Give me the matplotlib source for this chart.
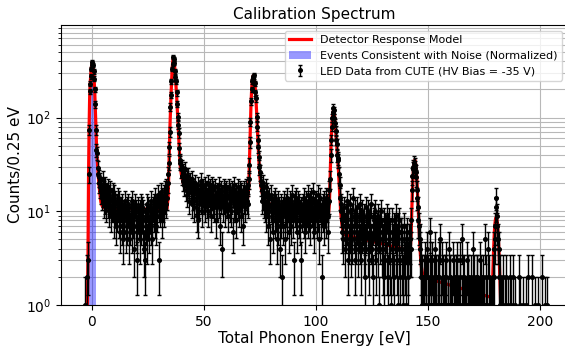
import numpy as np
import matplotlib
matplotlib.use("Agg")
import matplotlib.pyplot as plt

BIN = 0.25  # eV per bin

# ---- LED data counts per 0.25 eV bin, by segment (start energy, counts) ----
start_peak0 = -3.5
counts_peak0 = [0, 1, 0, 0, 0, 0, 2, 3, 25, 74, 190, 230, 275, 330, 360, 390,
                365, 310, 260, 200, 138, 74, 45, 42, 29, 25, 23, 20]
start_cont1 = 3.5
counts_cont1 = [18, 21,
                16, 19, 14, 22, 15, 12, 17, 13, 19, 11, 14, 16, 12, 18, 10, 15,
                13, 17, 9, 14, 11, 16, 12, 8, 15, 10, 13, 7, 12, 9, 14, 11,
                8, 13, 6, 10, 11, 7, 12, 9, 5, 10, 8, 13, 9, 6, 11, 7,
                10, 12, 5, 8, 7, 11, 9, 6, 13, 8, 10, 4, 9, 12, 7, 10,
                6, 3, 9, 11, 8, 10, 5, 12, 7, 9, 11, 6, 10, 4, 8, 3,
                9, 7, 12, 5, 8, 11, 6, 9, 10, 7, 13, 8, 5, 11, 9, 12,
                8, 14, 10, 7, 12, 9, 15, 11, 3, 13, 10, 16, 12, 8, 14, 11,
                15, 10, 17, 13, 12, 18, 14, 20]
start_peak1 = 34.0
counts_peak1 = [25, 33, 48, 70, 130, 175, 245, 330, 370, 440, 425, 380,
                310, 270, 245, 185, 140, 102, 84, 69, 47, 33, 35, 28]
start_cont2 = 40.0
counts_cont2 = [30, 24, 27, 21, 25, 19, 23, 28, 17, 22, 15, 20, 24, 13, 18, 21,
                16, 19, 12, 22, 14, 18, 11, 17, 20, 13, 16, 9, 15, 8, 19, 14,
                12, 17, 21, 13, 16, 10, 18, 15, 13, 19, 11, 16, 17, 12, 14, 20,
                10, 15, 18, 13, 16, 9, 14, 19, 12, 17, 11, 15, 18, 13, 8, 16,
                11, 15, 19, 12, 14, 7, 17, 13, 4, 15, 11, 18, 13, 16, 10, 14,
                17, 12, 15, 9, 14, 18, 11, 16, 10, 13, 17, 6, 15, 12, 19, 14,
                11, 16, 8, 13, 18, 12, 15, 10, 14, 17, 9, 16, 12, 7, 15, 13,
                17, 11, 14, 18, 13, 16, 12, 19]
start_peak2 = 70.0
counts_peak2 = [22, 31, 55, 90, 149, 200, 245, 262, 270, 285, 240, 232,
                185, 160, 102, 80, 58, 49, 38, 30, 26, 21, 19, 13]
start_cont3 = 76.0
counts_cont3 = [17, 14, 20, 12, 15, 11, 18, 9, 13, 16, 7, 12, 10, 14, 5, 11,
                15, 9, 12, 6, 11, 13, 8, 14, 9, 12, 10, 5, 13, 7, 11, 9,
                4, 12, 8, 10, 2, 11, 7, 13, 9, 5, 12, 10, 14, 8, 11, 6,
                10, 13, 9, 12, 7, 11, 15, 8, 12, 3, 10, 13, 9, 14, 6, 11,
                13, 8, 12, 10, 7, 11, 3, 9, 12, 10, 14, 8, 6, 11, 9, 13,
                10, 15, 8, 12, 9, 13, 7, 11, 14, 10, 16, 8, 11, 6, 12, 9,
                13, 10, 8, 15, 9, 12, 5, 11, 14, 8, 2, 10, 12, 9, 13, 7,
                10, 14, 8, 12, 11, 6, 9, 13]
start_peak3 = 106.0
counts_peak3 = [17, 22, 40, 58, 80, 100, 115, 127, 120, 100, 88, 72,
                58, 52, 40, 37, 35, 25, 19, 14, 10, 12, 8, 6]
start_cont4 = 112.0
counts_cont4 = [8, 5, 11, 7, 4, 9, 6, 13, 7, 3, 10, 5, 12, 6, 8, 4,
                9, 5, 14, 7, 6, 10, 3, 8, 5, 11, 7, 4, 9, 6, 12, 5,
                3, 8, 6, 10, 7, 4, 9, 2, 5, 11, 6, 8, 10, 4, 7, 3,
                6, 9, 5, 12, 4, 7, 2, 8, 9, 5, 10, 6, 3, 7, 4, 9,
                6, 1, 8, 5, 10, 4, 6, 3, 5, 8, 2, 7, 4, 6, 9, 3,
                7, 2, 5, 8, 3, 6, 1, 4, 8, 5, 3, 7, 2, 6, 4, 9,
                5, 3, 7, 1, 4, 8, 2, 6, 6, 3, 5, 1, 2, 7, 4, 3,
                5, 1, 6, 4, 3, 2, 5, 4]
start_peak4 = 142.0
counts_peak4 = [5, 4, 8, 17, 24, 28, 30, 33, 29, 31, 23, 26,
                17, 14, 11, 8, 7, 5, 4, 2, 3, 1, 2, 1]
start_cont5 = 148.0
counts_cont5 = [2, 1, 3, 0, 1, 2, 0, 4, 2, 0, 1, 3, 6, 1, 2, 0,
                3, 1, 0, 2, 1, 4, 2, 1, 0, 2, 1, 3, 2, 0, 5, 1,
                1, 3, 0, 2, 0, 1, 2, 1, 3, 2, 0, 1, 1, 0, 4, 2,
                2, 1, 1, 0, 0, 3, 2, 1, 1, 0, 2, 3, 2, 1, 0, 1,
                1, 2, 3, 0, 5, 1, 0, 2, 0, 2, 1, 1, 1, 0, 3, 2,
                2, 1, 0, 1, 0, 2, 1, 0, 1, 4, 2, 1, 0, 1, 0, 2,
                2, 0, 1, 1, 1, 3, 0, 2, 0, 1, 2, 0, 1, 0, 5, 1,
                2, 1, 0, 4, 0, 2, 1, 1, 1, 0, 1, 0]
start_peak5 = 179.0
counts_peak5 = [2, 2, 4, 5, 7, 11, 14, 9, 7, 5, 4, 2, 2, 1, 0, 1]
start_tail = 183.0
counts_tail = [1, 0, 2, 0, 0, 0, 1, 0, 2, 0, 0, 1, 0, 0, 2, 0,
               0, 1, 0, 0, 2, 0, 0, 0, 1, 0, 0, 0, 0, 0, 0, 2,
               1, 0, 0, 0, 0, 1, 0, 0, 0, 0, 0, 1, 0, 0, 0, 2,
               0, 0, 0, 0, 0, 2, 0, 0, 0, 0, 0, 1, 0, 0, 0, 0,
               1, 0, 0, 0, 0, 0, 0, 2, 0, 0, 0, 0, 0, 1, 0, 0,
               1]

segments = [(start_peak0, counts_peak0), (start_cont1, counts_cont1),
            (start_peak1, counts_peak1), (start_cont2, counts_cont2),
            (start_peak2, counts_peak2), (start_cont3, counts_cont3),
            (start_peak3, counts_peak3), (start_cont4, counts_cont4),
            (start_peak4, counts_peak4), (start_cont5, counts_cont5),
            (start_peak5, counts_peak5), (start_tail, counts_tail)]

# ---- Detector response model (knots) ----
model_energy = [-2.5, -2.25, -2.0, -1.75, -1.5, -1.25, -1.0, -0.75, -0.5, -0.25, 0.0, 0.25,
                0.5, 0.75, 1.0, 1.25, 1.5, 1.75, 2.0, 2.25, 2.5, 2.75, 3.0, 3.25, 3.5, 3.75,
                4.0, 4.5, 5.0, 6.0, 10.0, 20.0, 30.0, 33.5,
                34.0, 34.25, 34.5, 34.75, 35.0, 35.25, 35.5, 35.75, 36.0, 36.25, 36.5, 36.75,
                37.0, 37.25, 37.5, 37.75, 38.0, 38.25, 38.5, 38.75, 39.0, 39.25, 39.5, 40.0,
                40.5, 41.0, 42.0, 43.0, 45.0, 69.5,
                70.0, 70.25, 70.5, 70.75, 71.0, 71.25, 71.5, 71.75, 72.0, 72.25, 72.5, 72.75,
                73.0, 73.25, 73.5, 73.75, 74.0, 74.25, 74.5, 74.75, 75.0, 75.5, 76.0, 77.0,
                78.0, 97.0, 105.5,
                106.0, 106.25, 106.5, 106.75, 107.0, 107.25, 107.5, 107.75, 108.0, 108.25,
                108.5, 108.75, 109.0, 109.25, 109.5, 109.75, 110.0, 110.25, 110.5, 110.75,
                111.0, 111.5, 112.0, 113.0, 142.0,
                142.25, 142.5, 142.75, 143.0, 143.25, 143.5, 143.75, 144.0, 144.25, 144.5,
                144.75, 145.0, 145.25, 145.5, 145.75, 146.0, 146.25, 146.5, 146.75, 147.0,
                147.5, 148.0, 149.0, 178.5,
                178.75, 179.0, 179.25, 179.5, 179.75, 180.0, 180.25, 180.5, 180.75, 181.0,
                181.25, 181.5, 181.75, 182.0, 182.25, 182.5, 182.75, 183.0]
model_counts = [0.3, 0.5, 1.0, 3.5, 25, 80, 170, 235, 290, 340, 380, 395,
                370, 310, 250, 190, 130, 85, 55, 40, 31, 25, 21, 18, 16, 14,
                12.5, 11.5, 11.0, 10.8, 10.7, 10.6, 10.5, 10.6,
                14, 22, 40, 70, 110, 160, 230, 310, 380, 430, 430, 390,
                330, 270, 225, 180, 140, 105, 80, 60, 45, 35, 29, 24,
                21, 19, 17, 16, 15.5, 13.8,
                18, 30, 55, 90, 140, 190, 240, 270, 280, 275, 255, 225,
                190, 150, 115, 85, 62, 46, 35, 28, 23, 18, 15.5, 13.5,
                12.2, 9.5, 9.0,
                12, 20, 35, 55, 75, 95, 110, 118, 115, 105,
                90, 75, 62, 50, 41, 34, 28, 22, 17, 13,
                10, 7.5, 6.2, 5.6, 3.8,
                4.5, 6, 10, 16, 22, 28, 33, 35, 35, 32,
                27, 22, 17, 12.5, 9, 6.5, 4.8, 3.7, 3.0, 2.6,
                2.2, 2.05, 1.95, 1.2,
                1.6, 2.5, 3.8, 5.3, 6.8, 7.9, 8.5, 8.6, 8.2, 7.3,
                6.0, 4.6, 3.3, 2.2, 1.4, 0.9, 0.5, 0.3]

# ---- Noise events histogram (normalized) ----
noise_edges = [-2.0, -1.75, -1.5, -1.25, -1.0, -0.75, -0.5, -0.25, 0.0, 0.25, 0.5,
               0.75, 1.0, 1.25, 1.5, 1.75, 2.0]
noise_counts = [2, 8, 30, 80, 160, 220, 280, 330, 410, 370, 320, 250, 180, 110, 60, 30]

# ---- assemble data ----
xs, ys = [], []
for start, vals in segments:
    for i, v in enumerate(vals):
        if v > 0:
            xs.append(start + BIN * i)
            ys.append(v)
xs = np.array(xs)
ys = np.array(ys, dtype=float)

fig = plt.figure(figsize=(5.65, 3.46), dpi=100)
ax = fig.add_axes([61 / 565, 41 / 346, (567.6 - 61) / 565, 280 / 346])

ax.set_yscale('log')
ax.grid(True, which='both', axis='y', color='#b8b8b8', lw=0.8)
ax.grid(True, which='major', axis='x', color='#b8b8b8', lw=0.8)
ax.set_axisbelow(True)

line_model, = ax.plot(model_energy, model_counts, color='red', lw=2.3,
                      label='Detector Response Model', zorder=2)
noise = ax.stairs(noise_counts, noise_edges, fill=True, color='blue', alpha=0.4,
                  label='Events Consistent with Noise (Normalized)', zorder=1.5)
eb = ax.errorbar(xs, ys, yerr=np.sqrt(ys), fmt='o', color='black', ms=2.6,
                 elinewidth=1.0, capsize=1.4, capthick=1.0,
                 label='LED Data from CUTE (HV Bias = -35 V)', zorder=2.5)

ax.set_xlim(-13.8, 212.3)
ax.set_ylim(1, 970)
ax.set_xticks([0, 50, 100, 150, 200])
ax.tick_params(labelsize=10)
ax.set_xlabel('Total Phonon Energy [eV]', fontsize=11, labelpad=2)
ax.set_ylabel('Counts/0.25 eV', fontsize=11, labelpad=2)
ax.set_title('Calibration Spectrum', fontsize=11, pad=4)
ax.legend(handles=[line_model, noise, eb], loc='upper right', fontsize=8)

fig.savefig('out.png', dpi=100)
